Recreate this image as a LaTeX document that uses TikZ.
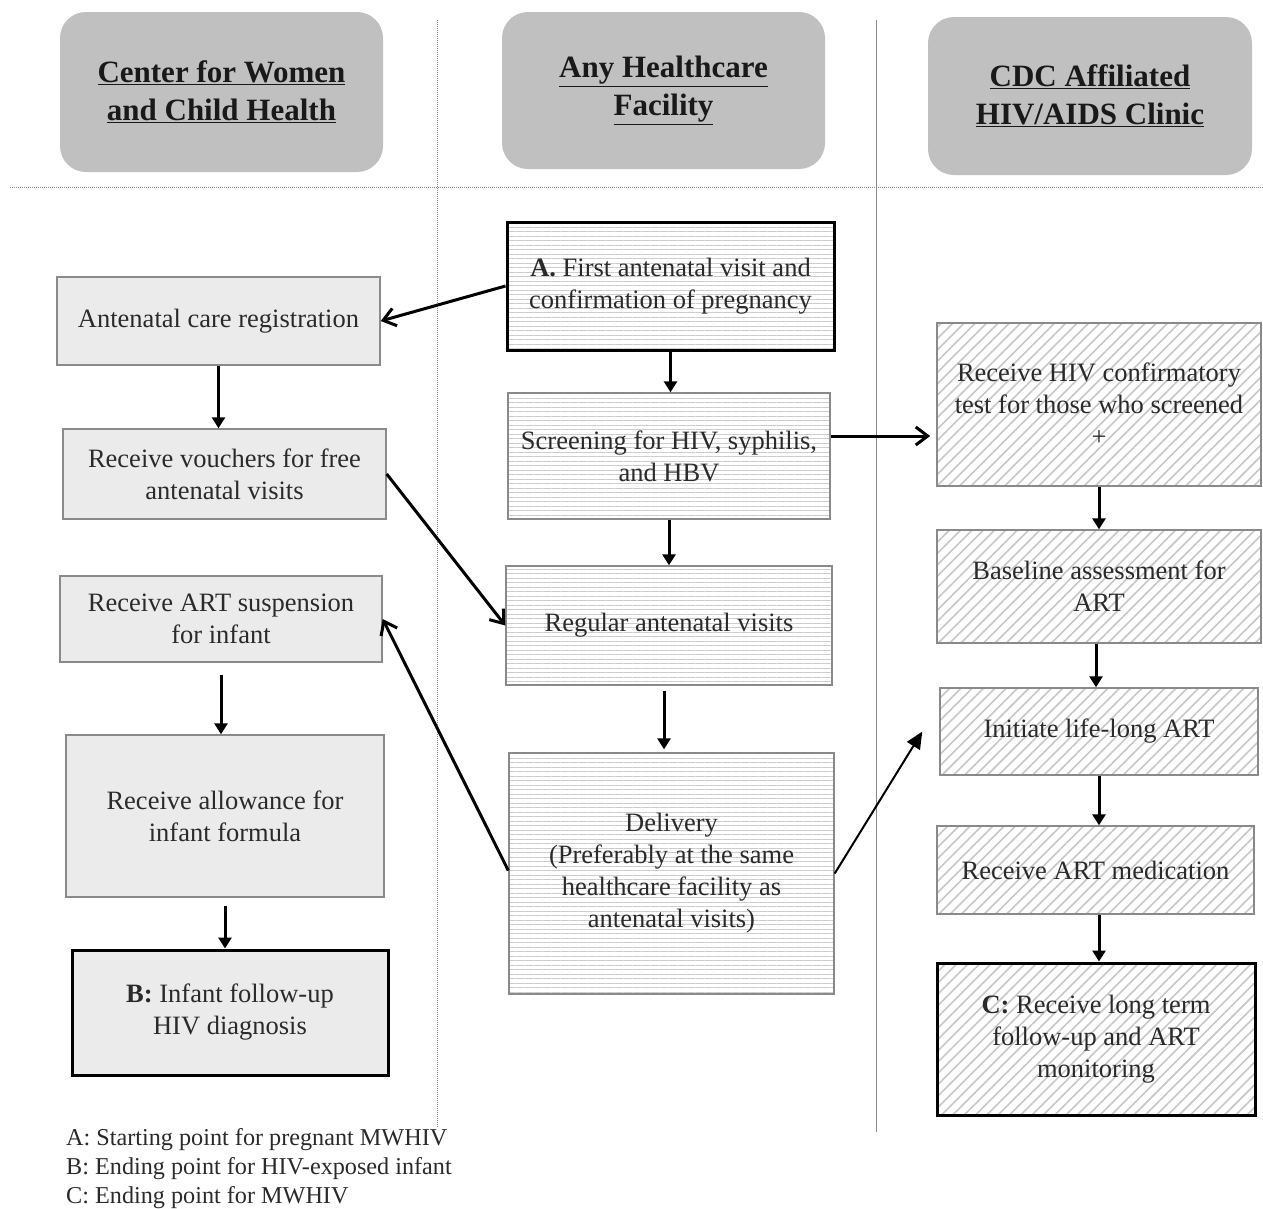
\documentclass[tikz,border=0pt]{standalone}
\usepackage{fontspec}
\setmainfont{Liberation Serif}
\usetikzlibrary{arrows.meta,patterns.meta}
\definecolor{hdrgray}{HTML}{C0C0C0}
\definecolor{txtgray}{HTML}{2A2A2A}
\definecolor{bordergray}{HTML}{8A8A8A}
\tikzset{
  boxbase/.style={draw=bordergray, line width=1.4pt, inner sep=4pt, align=center, text=txtgray,
    font=\fontsize{26.5}{32}\selectfont},
  lbox/.style={boxbase, fill=black!8},
  mbox/.style={boxbase, pattern={Lines[angle=0,distance=4.5pt,line width=0.7pt]}, pattern color=black!20},
  rbox/.style={boxbase, pattern={Lines[angle=45,distance=8pt,line width=1.6pt]}, pattern color=black!22},
  keybox/.style={draw=black, line width=3pt},
  header/.style={fill=hdrgray, rounded corners=26pt, align=center, text=black!90,
    font=\fontsize{31}{38}\selectfont\bfseries},
  downarr/.style={line width=3pt, -{Triangle[length=11pt,width=13pt]}},
  openarr/.style={line width=3pt, -{Straight Barb[length=12pt,width=18pt,line width=3pt]}},
  thinarr/.style={line width=2pt, -{Triangle[length=17pt,width=15pt]}},
  divider/.style={line width=1pt, black!45},
  legend/.style={anchor=base west, text=txtgray, font=\fontsize{24.2}{29}\selectfont, inner sep=0pt}
}
\begin{document}
\begin{tikzpicture}[x=1pt,y=-1pt]
\useasboundingbox (0,0) rectangle (1263,1208);
% dividers
\draw[divider, densely dotted] (437,20) -- (437,1128);
\draw[divider] (876,20) -- (876,1132);
\draw[divider, densely dotted] (10,187) -- (1263,187);
% headers
\node[header, minimum width=323pt, minimum height=160pt] (h1) at (221.5,92) {\underline{Center for Women}\\\underline{and Child Health}};
\node[header, minimum width=323pt, minimum height=157pt] (h2) at (663.5,90.5) {\underline{Any Healthcare}\\\underline{Facility}};
\node[header, minimum width=324pt, minimum height=158pt] (h3) at (1090,96) {\underline{CDC Affiliated}\\\underline{HIV/AIDS Clinic}};
% left column
\node[lbox, minimum width=323pt, minimum height=88pt] (reg) at (218.5,321) {Antenatal care registration};
\node[lbox, minimum width=323pt, minimum height=90pt] (vouch) at (224.5,474) {Receive vouchers for free\\antenatal visits};
\node[lbox, minimum width=322pt, minimum height=86pt] (supp) at (221,619) {Receive ART suspension\\for infant};
\node[lbox, minimum width=318pt, minimum height=162pt] (allow) at (225,816) {Receive allowance for\\infant formula};
\node[lbox, keybox, minimum width=316pt, minimum height=125pt] (B) at (230,1012.5) {\textbf{B:} Infant follow-up\\HIV diagnosis};
% middle column
\node[mbox, keybox, minimum width=327pt, minimum height=128pt] (A) at (670.5,286) {\textbf{A.} First antenatal visit and\\confirmation of pregnancy};
\node[mbox, minimum width=322pt, minimum height=126pt] (scr) at (669,456) {Screening for HIV, syphilis,\\and HBV};
\node[mbox, minimum width=326pt, minimum height=119pt] (regv) at (669,625.5) {Regular antenatal visits};
\node[mbox, minimum width=325pt, minimum height=241pt] (deliv) at (671.5,873.5) {Delivery\\(Preferably at the same\\healthcare facility as\\antenatal visits)};
% right column
\node[rbox, minimum width=324pt, minimum height=163pt] (conf) at (1099,404.5) {Receive HIV confirmatory\\test for those who screened\\+};
\node[rbox, minimum width=324pt, minimum height=113pt] (base) at (1099,586.5) {Baseline assessment for\\ART};
\node[rbox, minimum width=318pt, minimum height=87pt] (init) at (1099,731.5) {Initiate life-long ART};
\node[rbox, minimum width=317pt, minimum height=88pt] (med) at (1095.5,870) {Receive ART medication};
\node[rbox, keybox, minimum width=318pt, minimum height=152pt] (C) at (1096,1039) {\textbf{C:} Receive long term\\follow-up and ART\\monitoring};
% connectors
\draw[openarr] (A.west) -- (reg.east);
\draw[downarr] (reg.south) -- (reg.south |- vouch.north);
\draw[openarr] (vouch.east) -- (regv.west);
\draw[openarr] ([yshift=3pt]deliv.west) -- (supp.east);
\draw[downarr, shorten <=12pt] (supp.south) -- (supp.south |- allow.north);
\draw[downarr, shorten <=8pt] (allow.south) -- (allow.south |- B.north);
\draw[downarr] (A.south) -- (A.south |- scr.north);
\draw[downarr] (scr.south) -- (scr.south |- regv.north);
\draw[downarr, shorten <=5pt, shorten >=3pt] ([xshift=-5pt]regv.south) -- ([xshift=-5pt]regv.south |- deliv.north);
\coordinate (sa) at ([yshift=20pt]scr.east);
\draw[openarr, shorten >=6pt] (sa) -- (sa -| conf.west);
\draw[downarr] (conf.south) -- (conf.south |- base.north);
\draw[downarr] ([xshift=-3pt]base.south) -- ([xshift=-3pt]base.south |- init.north);
\draw[downarr] (init.south) -- (init.south |- med.north);
\draw[downarr] ([xshift=3.5pt]med.south) -- ([xshift=3.5pt]med.south |- C.north);
\coordinate (it) at ([xshift=-17pt]init.west);
\draw[thinarr] (deliv.east) -- (it);
% legend
\node[legend] (la) at (66,1145) {A: Starting point for pregnant MWHIV};
\node[legend] (lb) at (66,1174) {B: Ending point for HIV-exposed infant};
\node[legend] (lc) at (66,1203) {C: Ending point for MWHIV};
\end{tikzpicture}
\end{document}
